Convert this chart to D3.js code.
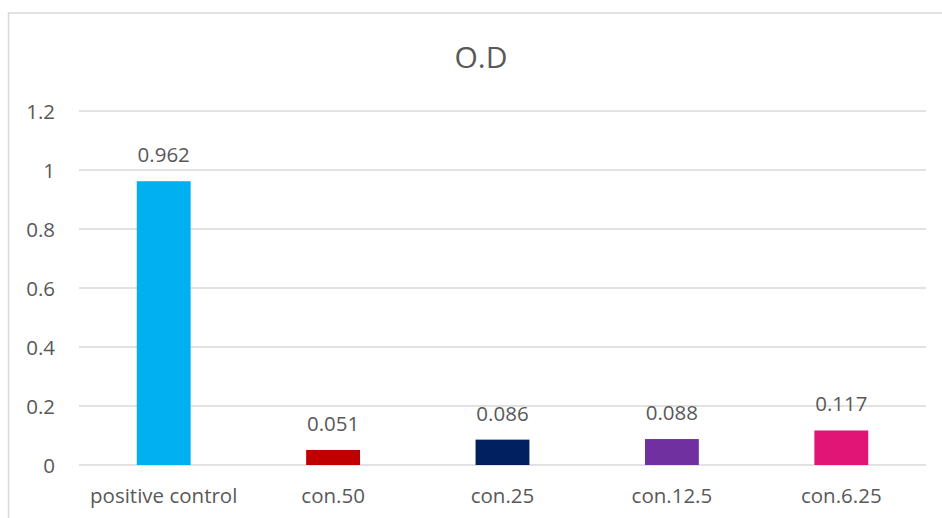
<!DOCTYPE html>
<html><head><meta charset="utf-8">
<script src="https://cdn.jsdelivr.net/npm/d3@7"></script>
<style>html,body{margin:0;padding:0;background:#fff;}svg{display:block;}</style>
</head><body>
<svg id="c" width="942" height="518"></svg>
<script>
const categories = ["positive control", "con.50", "con.25", "con.12.5", "con.6.25"];
const values = [0.962, 0.051, 0.086, 0.088, 0.117];
const colors = ["#00B0F0", "#C00000", "#002060", "#7030A0", "#E01576"];
const yTicks = [0, 0.2, 0.4, 0.6, 0.8, 1, 1.2];
const title = "O.D";

(function () {
const svg = d3.select("#c");
const font = "'Open Sans', sans-serif";
const textColor = "#595959";
const fs = 20.5;
const pLeft = 79, pRight = 926, pTop = 111, pBottom = 465;

svg.append("rect").attr("x", 8.5).attr("y", 13).attr("width", 1000).attr("height", 1000)
  .attr("fill", "none").attr("stroke", "#d9d9d9").attr("stroke-width", 1.5);

const x = d3.scaleBand().domain(categories).range([pLeft, pRight]).padding(0);
const y = d3.scaleLinear().domain([0, 1.2]).range([pBottom, pTop]);
const barW = x.bandwidth() * 0.318;

svg.append("g").selectAll("line").data(yTicks).join("line")
  .attr("x1", pLeft).attr("x2", pRight)
  .attr("y1", d => y(d)).attr("y2", d => y(d))
  .attr("stroke", "#d9d9d9").attr("stroke-width", 1.5);

svg.append("g").selectAll("text").data(yTicks).join("text")
  .attr("x", 55).attr("y", d => y(d) + 7.5)
  .attr("text-anchor", "end").attr("font-family", font).attr("font-size", fs)
  .attr("fill", textColor).text(d => d3.format("")(d));

svg.append("g").selectAll("rect").data(values).join("rect")
  .attr("x", (d, i) => x(categories[i]) + x.bandwidth() / 2 - barW / 2)
  .attr("width", barW)
  .attr("y", d => y(d)).attr("height", d => y(0) - y(d))
  .attr("fill", (d, i) => colors[i]);

svg.append("g").selectAll("text").data(values).join("text")
  .attr("x", (d, i) => x(categories[i]) + x.bandwidth() / 2)
  .attr("y", d => y(d) - 19)
  .attr("text-anchor", "middle").attr("font-family", font).attr("font-size", fs)
  .attr("fill", textColor).text(d => d);

svg.append("g").selectAll("text").data(categories).join("text")
  .attr("x", d => x(d) + x.bandwidth() / 2).attr("y", 503)
  .attr("text-anchor", "middle").attr("font-family", font).attr("font-size", fs)
  .attr("fill", textColor).text(d => d);

svg.append("text").attr("x", 481).attr("y", 68).attr("text-anchor", "middle")
  .attr("font-family", font).attr("font-size", 30).attr("fill", textColor).text(title);
})();
</script>
</body></html>
